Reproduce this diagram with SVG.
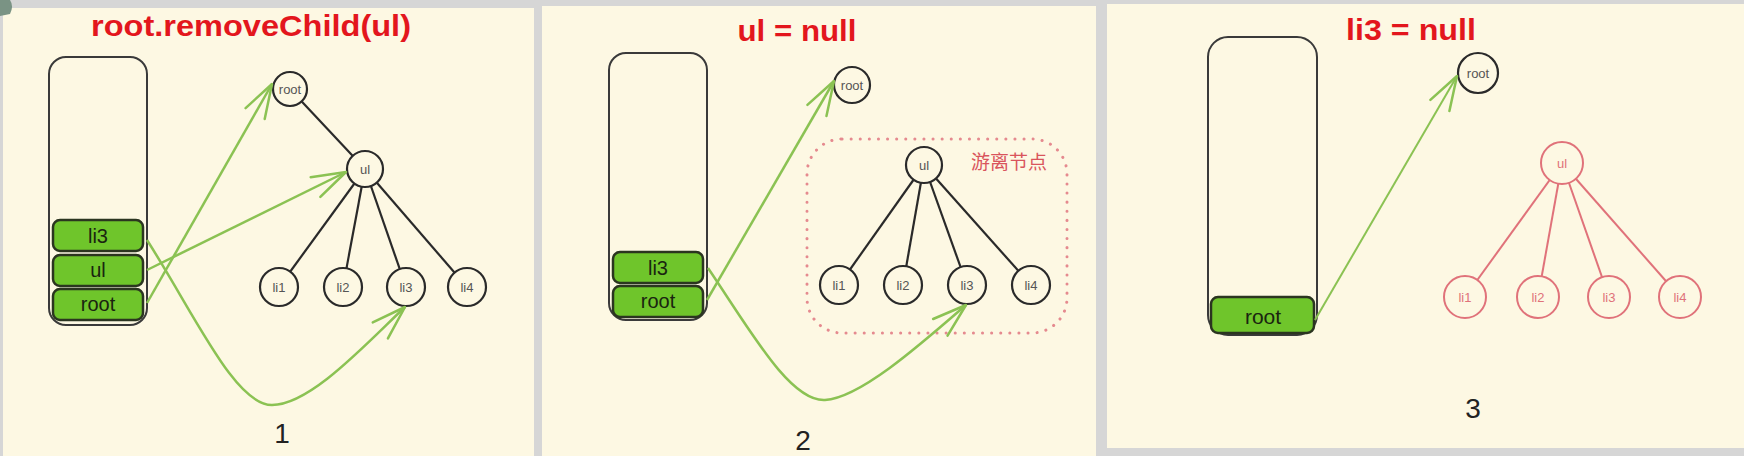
<svg xmlns="http://www.w3.org/2000/svg" width="1744" height="456" viewBox="0 0 1744 456">
<defs>
<style>
.panel{fill:#fdf8e3}
.title{font-family:"Liberation Sans",Arial,sans-serif;font-weight:bold;font-size:30px;fill:#e3161d;text-anchor:middle}
.num{font-family:"Liberation Sans",Arial,sans-serif;font-size:28px;fill:#222;text-anchor:middle}
.stack{fill:none;stroke:#3a3a3a;stroke-width:2}
.box{fill:#6fc52b;stroke:#2b3520;stroke-width:2.5}
.boxt{font-family:"Liberation Sans",Arial,sans-serif;font-size:20px;fill:#1a2410;text-anchor:middle}
.node{fill:#fdf8e3;stroke:#2a2a2a;stroke-width:2.2}
.nodet{font-family:"Liberation Sans",Arial,sans-serif;font-size:13px;fill:#555;text-anchor:middle}
.rnode{fill:#fdf8e3;stroke:#e0727a;stroke-width:2}
.rnodet{font-family:"Liberation Sans",Arial,sans-serif;font-size:13px;fill:#e0727a;text-anchor:middle}
.edge{stroke:#2a2a2a;stroke-width:2.2;fill:none}
.redge{stroke:#e0727a;stroke-width:2;fill:none}
.arrow{stroke:#8bc253;stroke-width:2.5;fill:none;marker-end:url(#ah)}
.dots{fill:none;stroke:#e58a8f;stroke-width:3;stroke-dasharray:0.1 9;stroke-linecap:round}
.cn{font-family:"Noto Sans CJK SC","Liberation Sans",sans-serif;font-size:19px;fill:#d9545c;text-anchor:middle}
</style>
<marker id="ah" markerUnits="userSpaceOnUse" markerWidth="40" markerHeight="30" refX="0" refY="0" viewBox="-36 -15 40 30" orient="auto" overflow="visible">
<path d="M-34,-11 L0,0 L-34,11" fill="none" stroke="#8bc253" stroke-width="2.5" stroke-linecap="round" stroke-linejoin="round"/>
</marker>
</defs>
<rect x="0" y="0" width="1744" height="456" fill="#d6d6d6"/>
<rect class="panel" x="3" y="8" width="531" height="448"/>
<rect class="panel" x="542" y="6" width="554" height="450"/>
<rect class="panel" x="1107" y="4" width="637" height="444"/>
<path d="M0,0 L10,0 Q14,6 10,14 L0,16 Z" fill="#7a9384"/>

<!-- Panel 1 -->
<text class="title" x="251" y="36" textLength="320" lengthAdjust="spacingAndGlyphs">root.removeChild(ul)</text>
<text class="num" x="282" y="443">1</text>
<g id="p1-stack">
<rect class="stack" x="49" y="57" width="98" height="268" rx="17"/>
</g>
<g id="p1-box-li3"><rect class="box" x="53" y="220" width="90" height="31" rx="7"/><text class="boxt" x="98" y="243">li3</text></g>
<g id="p1-box-ul"><rect class="box" x="53" y="255" width="90" height="31" rx="7"/><text class="boxt" x="98" y="277">ul</text></g>
<g id="p1-box-root"><rect class="box" x="53" y="289" width="90" height="31" rx="7"/><text class="boxt" x="98" y="311">root</text></g>

<g id="p1-connectors">
<line class="edge" x1="290" y1="89" x2="365" y2="169"/>
<line class="edge" x1="365" y1="169" x2="279" y2="287"/>
<line class="edge" x1="365" y1="169" x2="343" y2="287"/>
<line class="edge" x1="365" y1="169" x2="406" y2="287"/>
<line class="edge" x1="365" y1="169" x2="467" y2="287"/>
</g>
<g id="p1-root"><circle class="node" cx="290" cy="89" r="17"/><text class="nodet" x="290" y="94">root</text></g>
<g id="p1-ul"><circle class="node" cx="365" cy="169" r="18"/><text class="nodet" x="365" y="174">ul</text></g>
<g id="p1-li1"><circle class="node" cx="279" cy="287" r="19"/><text class="nodet" x="279" y="292">li1</text></g>
<g id="p1-li2"><circle class="node" cx="343" cy="287" r="19"/><text class="nodet" x="343" y="292">li2</text></g>
<g id="p1-li3"><circle class="node" cx="406" cy="287" r="19"/><text class="nodet" x="406" y="292">li3</text></g>
<g id="p1-li4"><circle class="node" cx="467" cy="287" r="19"/><text class="nodet" x="467" y="292">li4</text></g>
<g id="p1-arrows">
<path class="arrow" d="M147,303 L272,84"/>
<path class="arrow" d="M147,270 L346,172"/>
<path class="arrow" d="M147,240 C195,315 235,405 272,405 C310,405 365,345 405,307"/>
</g>

<!-- Panel 2 -->
<text class="title" x="797" y="41" textLength="119" lengthAdjust="spacingAndGlyphs">ul = null</text>
<text class="num" x="803" y="450">2</text>
<g id="p2-stack">
<rect class="stack" x="609" y="53" width="98" height="267" rx="17"/>
</g>
<g id="p2-box-li3"><rect class="box" x="613" y="252" width="90" height="31" rx="7"/><text class="boxt" x="658" y="275">li3</text></g>
<g id="p2-box-root"><rect class="box" x="613" y="286" width="90" height="31" rx="7"/><text class="boxt" x="658" y="308">root</text></g>
<g id="p2-detached">
<rect class="dots" x="807" y="139" width="260" height="194" rx="35"/>
<text class="cn" x="1009" y="169">游离节点</text>
</g>
<g id="p2-connectors">
<line class="edge" x1="924" y1="165" x2="839" y2="285"/>
<line class="edge" x1="924" y1="165" x2="903" y2="285"/>
<line class="edge" x1="924" y1="165" x2="967" y2="285"/>
<line class="edge" x1="924" y1="165" x2="1031" y2="285"/>
</g>
<g id="p2-root"><circle class="node" cx="852" cy="85" r="18"/><text class="nodet" x="852" y="90">root</text></g>
<g id="p2-ul"><circle class="node" cx="924" cy="165" r="18"/><text class="nodet" x="924" y="170">ul</text></g>
<g id="p2-li1"><circle class="node" cx="839" cy="285" r="19"/><text class="nodet" x="839" y="290">li1</text></g>
<g id="p2-li2"><circle class="node" cx="903" cy="285" r="19"/><text class="nodet" x="903" y="290">li2</text></g>
<g id="p2-li3"><circle class="node" cx="967" cy="285" r="19"/><text class="nodet" x="967" y="290">li3</text></g>
<g id="p2-li4"><circle class="node" cx="1031" cy="285" r="19"/><text class="nodet" x="1031" y="290">li4</text></g>
<g id="p2-arrows">
<path class="arrow" d="M707,300 L834,81"/>
<path class="arrow" d="M708,268 C750,330 790,402 825,400 C860,398 920,345 966,305"/>
</g>

<!-- Panel 3 -->
<text class="title" x="1411" y="40" textLength="130" lengthAdjust="spacingAndGlyphs">li3 = null</text>
<text class="num" x="1473" y="418">3</text>
<g id="p3-stack">
<rect class="stack" x="1208" y="37" width="109" height="298" rx="20"/>
</g>
<g id="p3-box-root"><rect class="box" x="1211" y="297" width="103" height="36" rx="7"/><text class="boxt" x="1263" y="324" style="font-size:21px">root</text></g>
<g id="p3-connectors">
<line class="redge" x1="1562" y1="163" x2="1465" y2="297"/>
<line class="redge" x1="1562" y1="163" x2="1538" y2="297"/>
<line class="redge" x1="1562" y1="163" x2="1609" y2="297"/>
<line class="redge" x1="1562" y1="163" x2="1680" y2="297"/>
</g>
<g id="p3-root"><circle class="node" cx="1478" cy="73" r="20"/><text class="nodet" x="1478" y="78">root</text></g>
<g id="p3-ul"><circle class="rnode" cx="1562" cy="163" r="21"/><text class="rnodet" x="1562" y="168">ul</text></g>
<g id="p3-li1"><circle class="rnode" cx="1465" cy="297" r="21"/><text class="rnodet" x="1465" y="302">li1</text></g>
<g id="p3-li2"><circle class="rnode" cx="1538" cy="297" r="21"/><text class="rnodet" x="1538" y="302">li2</text></g>
<g id="p3-li3"><circle class="rnode" cx="1609" cy="297" r="21"/><text class="rnodet" x="1609" y="302">li3</text></g>
<g id="p3-li4"><circle class="rnode" cx="1680" cy="297" r="21"/><text class="rnodet" x="1680" y="302">li4</text></g>
<g id="p3-arrows">
<path class="arrow" style="stroke-width:2" d="M1315,320 L1457,76"/>
</g>
</svg>
